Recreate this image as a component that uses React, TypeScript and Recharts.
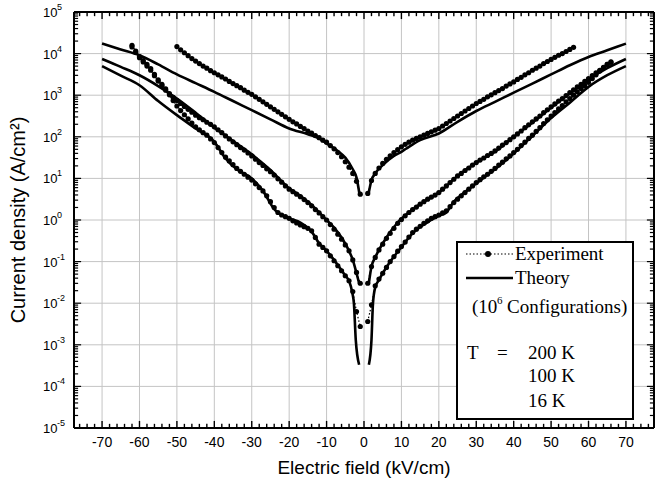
import React from 'react';
import { LineChart, Line, XAxis, YAxis, ReferenceLine, Label } from 'recharts';

// All current densities are stored as log10(J / A cm^-2).
// Experiment: one point per kV/cm, starting at the given field.
const exp200LeftStart = -50;
const exp200Left = [
  4.17, 4.09, 4.02, 3.95, 3.88, 3.82, 3.76, 3.70, 3.65, 3.59,
  3.54, 3.49, 3.44, 3.39, 3.33, 3.28, 3.23, 3.18, 3.12, 3.07,
  3.02, 2.96, 2.90, 2.84, 2.78, 2.72, 2.66, 2.60, 2.54, 2.48,
  2.42, 2.36, 2.31, 2.25, 2.20, 2.14, 2.09, 2.03, 1.98, 1.92,
  1.87, 1.79, 1.71, 1.62, 1.52, 1.40, 1.27, 1.12, 0.93, 0.62,
];
const exp200RightStart = 1;
const exp200Right = [
  0.64, 0.95, 1.12, 1.25, 1.36, 1.46, 1.54, 1.62, 1.69, 1.76,
  1.82, 1.87, 1.92, 1.96, 2.00, 2.04, 2.08, 2.12, 2.16, 2.20,
  2.26, 2.32, 2.38, 2.44, 2.50, 2.56, 2.62, 2.68, 2.74, 2.80,
  2.85, 2.90, 2.96, 3.01, 3.06, 3.11, 3.16, 3.22, 3.27, 3.32,
  3.38, 3.43, 3.49, 3.54, 3.60, 3.65, 3.70, 3.76, 3.81, 3.86,
  3.91, 3.96, 4.00, 4.05, 4.10, 4.15,
];

const exp100LeftStart = -62;
const exp100Left = [
  4.20, 4.06, 3.93, 3.83, 3.74, 3.64, 3.50, 3.37, 3.26, 3.15,
  3.04, 2.95, 2.87, 2.80, 2.73, 2.66, 2.59, 2.52, 2.46, 2.41,
  2.35, 2.30, 2.24, 2.17, 2.10, 2.02, 1.95, 1.88, 1.81, 1.74,
  1.68, 1.61, 1.54, 1.46, 1.38, 1.31, 1.23, 1.16, 1.08, 0.99,
  0.91, 0.82, 0.74, 0.68, 0.62, 0.56, 0.49, 0.42, 0.34, 0.25,
  0.17, 0.08, 0.00, -0.11, -0.22, -0.34, -0.46, -0.60, -0.74, -0.96,
  -1.26, -1.52,
];
const exp100RightStart = 1;
const exp100Right = [
  -1.52, -1.12, -0.90, -0.72, -0.58, -0.44, -0.32, -0.20, -0.08, 0.01,
  0.10, 0.18, 0.25, 0.31, 0.38, 0.44, 0.50, 0.55, 0.60, 0.66,
  0.74, 0.82, 0.90, 0.98, 1.06, 1.12, 1.19, 1.25, 1.32, 1.38,
  1.44, 1.49, 1.55, 1.60, 1.66, 1.73, 1.80, 1.86, 1.93, 2.00,
  2.07, 2.14, 2.22, 2.29, 2.36, 2.43, 2.50, 2.58, 2.65, 2.72,
  2.79, 2.86, 2.92, 2.99, 3.06, 3.13, 3.20, 3.26, 3.33, 3.40,
  3.47, 3.54, 3.60, 3.67, 3.74, 3.80,
];

const exp16LeftStart = -62;
const exp16Left = [
  4.16, 4.03, 3.90, 3.80, 3.70, 3.60, 3.47, 3.34, 3.23, 3.12,
  3.01, 2.87, 2.74, 2.63, 2.53, 2.43, 2.33, 2.24, 2.17, 2.10,
  2.04, 1.95, 1.86, 1.74, 1.62, 1.51, 1.42, 1.33, 1.24, 1.17,
  1.10, 1.03, 0.96, 0.87, 0.78, 0.70, 0.58, 0.44, 0.30, 0.18,
  0.12, 0.08, 0.04, -0.02, -0.07, -0.12, -0.16, -0.20, -0.26, -0.42,
  -0.58, -0.66, -0.74, -0.86, -0.98, -1.10, -1.22, -1.34, -1.46, -1.72,
  -2.20, -2.56,
];
const exp16RightStart = 1;
const exp16Right = [
  -2.44, -2.04, -1.58, -1.42, -1.28, -1.14, -1.00, -0.88, -0.75, -0.64,
  -0.53, -0.41, -0.30, -0.22, -0.15, -0.08, -0.02, 0.04, 0.08, 0.12,
  0.17, 0.22, 0.32, 0.42, 0.50, 0.58, 0.66, 0.74, 0.82, 0.90,
  0.97, 1.04, 1.10, 1.17, 1.24, 1.32, 1.39, 1.47, 1.54, 1.62,
  1.70, 1.79, 1.87, 1.96, 2.04, 2.13, 2.22, 2.32, 2.41, 2.50,
  2.58, 2.67, 2.75, 2.84, 2.92, 3.00, 3.08, 3.16, 3.23, 3.31,
  3.40, 3.49, 3.58, 3.66, 3.74, 3.79,
];

// Theory (10^6 configurations)
const theory200LeftX = [-70, -65, -60, -55, -50, -45, -40, -35, -30, -25, -20, -15, -12, -10, -7, -5, -3, -2, -1.2];
const theory200Left = [4.24, 4.10, 3.96, 3.74, 3.50, 3.29, 3.08, 2.86, 2.64, 2.42, 2.20, 2.06, 1.96, 1.84, 1.66, 1.50, 1.22, 1.02, 0.62];
const theory200RightX = [1.2, 2, 3, 5, 8, 10, 12, 15, 20, 25, 30, 35, 40, 45, 50, 55, 60, 65, 70];
const theory200Right = [0.62, 0.96, 1.12, 1.32, 1.54, 1.64, 1.76, 1.92, 2.08, 2.36, 2.62, 2.84, 3.06, 3.28, 3.50, 3.72, 3.92, 4.08, 4.24];

const theory100LeftX = [-70, -65, -60, -55, -50, -45, -40, -35, -30, -25, -20, -17, -14, -10, -8, -6, -4, -3, -2, -1.3];
const theory100Left = [3.87, 3.68, 3.48, 3.22, 2.92, 2.58, 2.22, 1.90, 1.58, 1.20, 0.76, 0.58, 0.36, 0.0, -0.18, -0.42, -0.74, -0.96, -1.28, -1.52];
const theory100RightX = [1.3, 2, 3, 4, 6, 9, 12, 16, 20, 25, 30, 35, 40, 45, 50, 55, 60, 65, 70];
const theory100Right = [-1.52, -1.12, -0.90, -0.72, -0.42, -0.06, 0.18, 0.44, 0.66, 1.06, 1.38, 1.64, 2.0, 2.34, 2.70, 3.04, 3.38, 3.65, 3.87];

const theory16LeftX = [-70, -65, -60, -55, -50, -45, -40, -37, -34, -30, -27, -24, -20, -17, -14, -12, -10, -7, -5, -4, -3.1, -2.7, -2.2, -1.3];
const theory16Left = [3.70, 3.47, 3.24, 2.86, 2.52, 2.20, 1.88, 1.48, 1.22, 1.00, 0.70, 0.26, 0.04, -0.06, -0.28, -0.56, -0.74, -1.08, -1.34, -1.46, -1.76, -2.0, -2.88, -3.48];
const theory16RightX = [1.3, 2.0, 2.4, 3, 4, 6.7, 9.4, 13, 16.5, 20, 22, 24, 26, 30, 35, 40, 45, 50, 55, 60, 65, 70];
const theory16Right = [-3.48, -2.88, -2.0, -1.62, -1.44, -1.04, -0.72, -0.32, -0.08, 0.10, 0.18, 0.44, 0.60, 0.88, 1.22, 1.60, 2.02, 2.45, 2.82, 3.20, 3.48, 3.70];

// axes
const xDomain: [number, number] = [-77.5, 77.5];
const yDomain: [number, number] = [1e-5, 1e5];
const xMajorTicks = [-70, -60, -50, -40, -30, -20, -10, 0, 10, 20, 30, 40, 50, 60, 70];
const yDecades = [1e-5, 1e-4, 1e-3, 1e-2, 1e-1, 1, 1e1, 1e2, 1e3, 1e4, 1e5];
const yExponents = ['-5', '-4', '-3', '-2', '-1', '0', '1', '2', '3', '4', '5'];
const yMinorFactors = [2, 3, 4, 5, 6, 7, 8, 9];

const xMinorTicks: number[] = [];
for (let v = -76; v <= 76; v += 2) xMinorTicks.push(v);
const yAllTicks: number[] = [];
yDecades.forEach((d, i) => {
  yAllTicks.push(d);
  if (i < yDecades.length - 1) yMinorFactors.forEach(f => yAllTicks.push(f * d));
});

type Pt = { x: number; y: number | null };
const branch = (xs: number[], logs: number[]): Pt[] => logs.map((v, i) => ({ x: xs[i], y: Math.pow(10, v) }));
const steps = (start: number, logs: number[]) => logs.map((_, i) => start + i);
const gap: Pt = { x: 0, y: null };

const exp200 = [...branch(steps(exp200LeftStart, exp200Left), exp200Left), gap, ...branch(steps(exp200RightStart, exp200Right), exp200Right)];
const exp100 = [...branch(steps(exp100LeftStart, exp100Left), exp100Left), gap, ...branch(steps(exp100RightStart, exp100Right), exp100Right)];
const exp16 = [...branch(steps(exp16LeftStart, exp16Left), exp16Left), gap, ...branch(steps(exp16RightStart, exp16Right), exp16Right)];
const theory200 = [...branch(theory200LeftX, theory200Left), gap, ...branch(theory200RightX, theory200Right)];
const theory100 = [...branch(theory100LeftX, theory100Left), gap, ...branch(theory100RightX, theory100Right)];
const theory16 = [...branch(theory16LeftX, theory16Left), gap, ...branch(theory16RightX, theory16Right)];

const SANS = 'Liberation Sans, Arial, sans-serif';
const SERIF = 'Liberation Serif, Times New Roman, serif';
const GRID = '#c4c4c4';

const isDecade = (v: number) => Math.abs(Math.log10(v) - Math.round(Math.log10(v))) < 1e-9;

// inward tick lengths, in axis units (about 7 px major, 4 px minor)
const tickX = (major: boolean) => (major ? 1.9 : 1.1);
const tickDecades = (major: boolean) => (major ? 0.17 : 0.1);

const BottomTick = (props: any) => {
  const major = xMajorTicks.includes(props.payload.value);
  if (!major) return <g />;
  return (
    <text x={Number(props.x)} y={Number(props.y) + 19} textAnchor="middle" fontSize={14} fontFamily={SANS}>
      {props.payload.value}
    </text>
  );
};

const LeftTick = (props: any) => {
  const x = Number(props.x);
  const y = Number(props.y);
  const v = props.payload.value;
  if (!isDecade(v)) return <g />;
  const idx = Math.round(Math.log10(v)) + 5;
  return (
    <g>
      <text x={x - 31} y={y + 5} fontSize={13} fontFamily={SANS}>10</text>
      <text x={x - 17} y={y - 2} fontSize={9} fontFamily={SANS}>{yExponents[idx]}</text>
    </g>
  );
};

const XTitle = (props: any) => (
  <text x={props.viewBox.x + props.viewBox.width / 2} y={props.viewBox.y + 46} textAnchor="middle" fontSize={19} fontFamily={SANS}>
    Electric field (kV/cm)
  </text>
);

const expProps = {
  type: 'linear' as const,
  stroke: '#000',
  strokeWidth: 1.2,
  strokeDasharray: '1.5 2',
  dot: { r: 2.6, fill: '#000', stroke: 'none' },
  isAnimationActive: false,
};

export default function App() {
  return (
    <div style={{ position: 'absolute', left: 0, top: 0, width: 672, height: 483, background: '#fff' }}>
      <LineChart width={672} height={483} margin={{ top: 12, right: 18, bottom: 0, left: 0 }}>
        <XAxis xAxisId="b" type="number" dataKey="x" domain={xDomain} allowDataOverflow ticks={xMinorTicks} interval={0}
          height={55} tickSize={0} tickMargin={0} tickLine={false} tick={BottomTick} axisLine={false}>
          <Label content={XTitle} />
        </XAxis>
        <YAxis yAxisId="l" type="number" scale="log" domain={yDomain} allowDataOverflow ticks={yAllTicks} interval={0}
          width={74} tickSize={0} tickMargin={0} tickLine={false} tick={LeftTick} axisLine={false}>
          <Label value="Current density (A/cm²)" angle={-90} position="insideLeft" offset={18}
            style={{ textAnchor: 'middle', fontSize: 20, fontFamily: SANS, fill: '#000' }} />
        </YAxis>

        {/* grid */}
        {xMajorTicks.map(v => (
          <ReferenceLine key={'gx' + v} x={v} xAxisId="b" yAxisId="l" stroke={GRID} />
        ))}
        {yDecades.slice(1, -1).map((v, i) => (
          <ReferenceLine key={'gy' + i} y={v} xAxisId="b" yAxisId="l" stroke={GRID} />
        ))}

        {/* inward ticks on all four sides */}
        {xMinorTicks.map(v => {
          const major = xMajorTicks.includes(v);
          const up = Math.pow(10, Math.log10(yDomain[0]) + tickDecades(major));
          const down = Math.pow(10, Math.log10(yDomain[1]) - tickDecades(major));
          return (
            <React.Fragment key={'tx' + v}>
              <ReferenceLine segment={[{ x: v, y: yDomain[0] }, { x: v, y: up }]} xAxisId="b" yAxisId="l" stroke="#000" strokeWidth={1.4} />
              <ReferenceLine segment={[{ x: v, y: yDomain[1] }, { x: v, y: down }]} xAxisId="b" yAxisId="l" stroke="#000" strokeWidth={1.4} />
            </React.Fragment>
          );
        })}
        {yAllTicks.map((v, i) => {
          const major = isDecade(v);
          return (
            <React.Fragment key={'ty' + i}>
              <ReferenceLine segment={[{ x: xDomain[0], y: v }, { x: xDomain[0] + tickX(major), y: v }]} xAxisId="b" yAxisId="l" stroke="#000" strokeWidth={1.2} />
              <ReferenceLine segment={[{ x: xDomain[1], y: v }, { x: xDomain[1] - tickX(major), y: v }]} xAxisId="b" yAxisId="l" stroke="#000" strokeWidth={1.2} />
            </React.Fragment>
          );
        })}

        {/* plot frame */}
        <ReferenceLine x={xDomain[0]} xAxisId="b" yAxisId="l" stroke="#000" strokeWidth={2} />
        <ReferenceLine x={xDomain[1]} xAxisId="b" yAxisId="l" stroke="#000" strokeWidth={2} />
        <ReferenceLine y={yDomain[0]} xAxisId="b" yAxisId="l" stroke="#000" strokeWidth={2} />
        <ReferenceLine y={yDomain[1]} xAxisId="b" yAxisId="l" stroke="#000" strokeWidth={2} />

        <Line data={theory200} dataKey="y" xAxisId="b" yAxisId="l" type="monotone" stroke="#000" strokeWidth={2.6} dot={false} isAnimationActive={false} />
        <Line data={theory100} dataKey="y" xAxisId="b" yAxisId="l" type="monotone" stroke="#000" strokeWidth={2.6} dot={false} isAnimationActive={false} />
        <Line data={theory16} dataKey="y" xAxisId="b" yAxisId="l" type="monotone" stroke="#000" strokeWidth={2.6} dot={false} isAnimationActive={false} />
        <Line data={exp200} dataKey="y" xAxisId="b" yAxisId="l" {...expProps} />
        <Line data={exp100} dataKey="y" xAxisId="b" yAxisId="l" {...expProps} />
        <Line data={exp16} dataKey="y" xAxisId="b" yAxisId="l" {...expProps} />
      </LineChart>
      <svg width={178} height={180} style={{ position: 'absolute', left: 456, top: 241 }}>
        <rect x={1} y={1} width={176} height={177} fill="#fff" stroke="#000" strokeWidth={2} />
        <line x1={10} x2={57} y1={13} y2={13} stroke="#000" strokeWidth={1.2} strokeDasharray="1.5 2" />
        <circle cx={32} cy={13} r={3} fill="#000" />
        <text x={59} y={19} fontSize={19} fontFamily={SERIF}>Experiment</text>
        <line x1={10} x2={57} y1={37} y2={37} stroke="#000" strokeWidth={2.6} />
        <text x={59} y={43} fontSize={19} fontFamily={SERIF}>Theory</text>
        <text x={16} y={72} fontSize={19} fontFamily={SERIF}>(10</text>
        <text x={41} y={63} fontSize={11} fontFamily={SERIF}>6</text>
        <text x={51} y={72} fontSize={19} fontFamily={SERIF}>Configurations)</text>
        <text x={11} y={118} fontSize={19} fontFamily={SERIF}>T</text>
        <text x={41} y={118} fontSize={19} fontFamily={SERIF}>=</text>
        <text x={72} y={118} fontSize={19} fontFamily={SERIF}>200 K</text>
        <text x={72} y={141} fontSize={19} fontFamily={SERIF}>100 K</text>
        <text x={72} y={166} fontSize={19} fontFamily={SERIF}>16 K</text>
      </svg>
    </div>
  );
}
